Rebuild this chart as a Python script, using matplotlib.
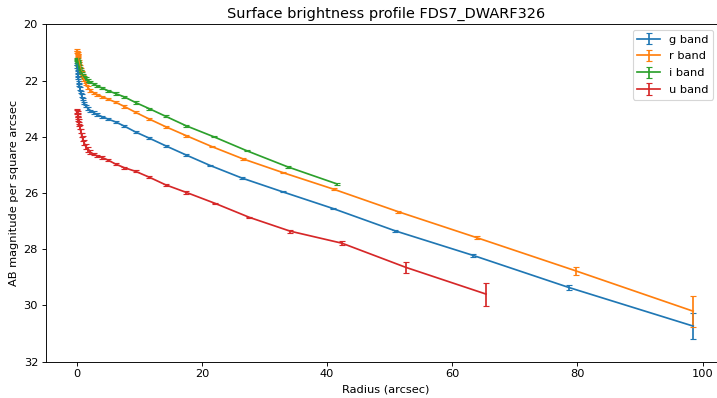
import matplotlib
matplotlib.use("Agg")
import matplotlib.pyplot as plt

# radii (arcsec) and surface brightness (mag/arcsec^2)
r_inner = [0.10, 0.12, 0.15, 0.18, 0.22, 0.28, 0.34, 0.42, 0.51, 0.63, 0.78, 0.96,
           1.18, 1.45, 1.8, 2.2, 2.7, 3.3, 4.1, 5.0, 6.2, 7.6, 9.4, 11.6, 14.2, 17.5]

g_rad = r_inner + [21.3, 26.4, 32.9, 40.9, 50.9, 63.3, 78.7, 98.5]
g_mag = [21.40, 21.50, 21.60, 21.70, 21.80, 21.92, 22.04, 22.16, 22.28, 22.40, 22.53, 22.66,
         22.79, 22.90, 22.99, 23.07, 23.14, 23.21, 23.29, 23.37, 23.47, 23.62, 23.83, 24.05,
         24.32, 24.65, 25.02, 25.47, 25.96, 26.55, 27.35, 28.22, 29.37, 30.74]
g_err = [0.04] * 26 + [0.02, 0.02, 0.02, 0.03, 0.03, 0.05, 0.10, 0.45]

r_rad = r_inner + [21.6, 26.6, 33.0, 41.1, 51.4, 63.9, 79.7, 98.5]
r_mag = [20.92, 20.97, 21.02, 21.08, 21.14, 21.21, 21.29, 21.38, 21.48, 21.59, 21.71, 21.84,
         21.98, 22.12, 22.25, 22.35, 22.43, 22.50, 22.58, 22.66, 22.77, 22.92, 23.13, 23.37,
         23.64, 23.96, 24.35, 24.79, 25.28, 25.87, 26.67, 27.59, 28.77, 30.21]
r_err = [0.04] * 26 + [0.02, 0.02, 0.02, 0.03, 0.03, 0.05, 0.15, 0.55]

i_rad = r_inner + [21.9, 27.2, 33.7, 41.6]
i_mag = [21.22, 21.26, 21.30, 21.34, 21.38, 21.43, 21.48, 21.54, 21.60, 21.66, 21.73, 21.80,
         21.87, 21.93, 22.00, 22.06, 22.12, 22.19, 22.27, 22.36, 22.46, 22.58, 22.78, 23.00,
         23.27, 23.61, 24.00, 24.50, 25.07, 25.68]
i_err = [0.04] * 26 + [0.02, 0.02, 0.03, 0.05]

u_rad = r_inner + [22.1, 27.6, 34.1, 42.4, 52.6, 65.4]
u_mag = [23.08, 23.12, 23.17, 23.22, 23.28, 23.36, 23.45, 23.55, 23.66, 23.79, 23.93, 24.07,
         24.21, 24.35, 24.46, 24.55, 24.62, 24.68, 24.74, 24.83, 24.97, 25.10, 25.23, 25.44,
         25.71, 25.98, 26.37, 26.87, 27.36, 27.79, 28.65, 29.60]
u_err = [0.08] * 16 + [0.04] * 10 + [0.03, 0.03, 0.05, 0.07, 0.19, 0.41]

DPI = 82
fig = plt.figure(figsize=(717 / DPI, 398 / DPI), dpi=DPI)
ax = fig.add_axes([0.0642, 0.0917, 0.948, 0.847])

ax.errorbar(g_rad, g_mag, yerr=g_err, capsize=3, label='g band')
ax.errorbar(r_rad, r_mag, yerr=r_err, capsize=3, label='r band')
ax.errorbar(i_rad, i_mag, yerr=i_err, capsize=3, label='i band')
ax.errorbar(u_rad, u_mag, yerr=u_err, capsize=3, label='u band')

ax.set_ylim(32, 20)
ax.set_xlim(-4.9, 103.7)
ax.set_xlabel('Radius (arcsec)')
ax.set_ylabel('AB magnitude per square arcsec')
ax.set_title('Surface brightness profile FDS7_DWARF326', fontsize=12.7)
ax.legend(loc='upper right', bbox_to_anchor=(0.99, 1.0), fontsize=10, labelspacing=0.6)

fig.savefig('out.png', dpi=DPI)
